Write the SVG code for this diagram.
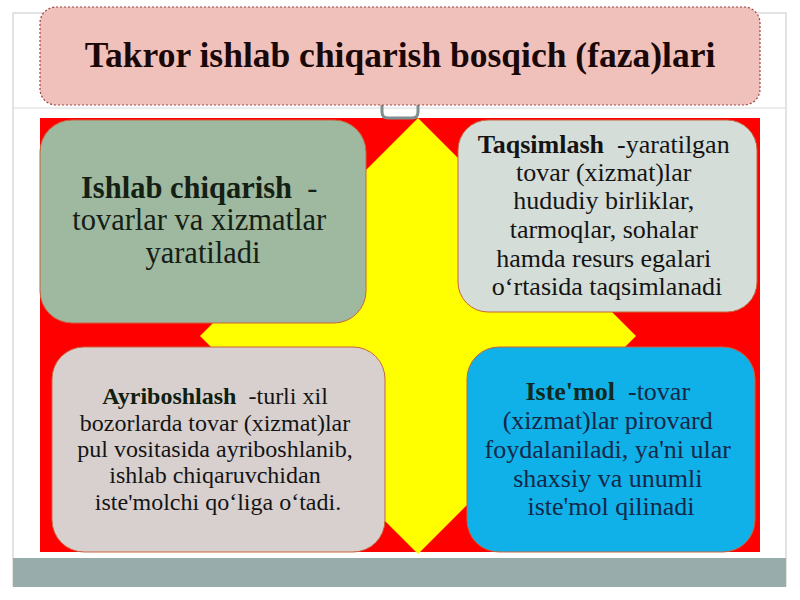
<svg xmlns="http://www.w3.org/2000/svg" width="800" height="600" viewBox="0 0 800 600">
<style>
  .t { font-family: "Liberation Serif", "Times New Roman", serif; text-anchor: middle; }
  .b { font-weight: bold; }
  .box { stroke: #c8643c; stroke-width: 1; }
</style>
<rect x="0" y="0" width="800" height="600" fill="#ffffff"/>
<!-- slide frame -->
<rect x="13" y="13" width="773" height="573" fill="#ffffff" stroke="#c8c8c8" stroke-width="1"/>
<line x1="13" y1="108" x2="786" y2="108" stroke="#d8d8d8" stroke-width="1"/>
<rect x="13" y="558" width="773" height="29" fill="#98acac"/>
<!-- background -->
<rect x="40" y="118" width="720" height="434" fill="#ff0000"/>
<polygon points="418,118 200,336 418,554 636,336" fill="#ffff00"/>
<!-- connectors -->
<g id="connectors">
  <path d="M382,100 V112 Q382,118 388,118 H412 Q418,118 418,112 V100" fill="none" stroke="#7f8f8f" stroke-width="3"/>
</g>
<!-- title -->
<g id="title">
  <rect x="40" y="7" width="720" height="98" rx="16" fill="#f0c0bb" stroke="#a04040" stroke-width="1.2" stroke-dasharray="2,2"/>
  <text class="t b" x="400" y="67" font-size="35.5" fill="#1a0808">Takror ishlab chiqarish bosqich (faza)lari</text>
</g>
<g id="node-ishlab">
  <rect class="box" x="40" y="120" width="326" height="203" rx="32" fill="#9fb8a0"/>
  <text class="t" font-size="30.5" fill="#142014">
    <tspan x="203" y="198"><tspan class="b">Ishlab chiqarish</tspan>&#160; -</tspan>
    <tspan x="203" y="230">tovarlar va xizmatlar</tspan>
    <tspan x="203" y="263">yaratiladi</tspan>
  </text>
</g>
<g id="node-taqsimlash">
  <rect class="box" x="458" y="120" width="299" height="192" rx="30" fill="#d4ddd8"/>
  <text class="t" font-size="26" fill="#141414">
    <tspan x="607" y="153"><tspan class="b">Taqsimlash</tspan>&#160; -yaratilgan</tspan>
    <tspan x="607" y="181">tovar (xizmat)lar</tspan>
    <tspan x="607" y="209">hududiy birliklar,</tspan>
    <tspan x="607" y="238">tarmoqlar, sohalar</tspan>
    <tspan x="607" y="267">hamda resurs egalari</tspan>
    <tspan x="607" y="295">o‘rtasida taqsimlanadi</tspan>
  </text>
</g>
<g id="node-ayriboshlash">
  <rect class="box" x="52" y="347" width="333" height="205" rx="32" fill="#d8d0cf"/>
  <text class="t" font-size="24" fill="#141414">
    <tspan x="218" y="404"><tspan class="b" fill="#0f200f">Ayriboshlash</tspan>&#160; -turli xil</tspan>
    <tspan x="218" y="431">bozorlarda tovar (xizmat)lar</tspan>
    <tspan x="218" y="457">pul vositasida ayriboshlanib,</tspan>
    <tspan x="218" y="483">ishlab chiqaruvchidan</tspan>
    <tspan x="218" y="510">iste'molchi qo‘liga o‘tadi.</tspan>
  </text>
</g>
<g id="node-istemol">
  <rect class="box" x="467" y="347" width="288" height="205" rx="32" fill="#10b0e8"/>
  <text class="t" font-size="26" fill="#142848">
    <tspan x="611" y="400"><tspan class="b" fill="#0f2a20">Iste'mol</tspan>&#160; -tovar</tspan>
    <tspan x="611" y="429">(xizmat)lar pirovard</tspan>
    <tspan x="611" y="458">foydalaniladi, ya'ni ular</tspan>
    <tspan x="611" y="487">shaxsiy va unumli</tspan>
    <tspan x="611" y="515">iste'mol qilinadi</tspan>
  </text>
</g>
</svg>
